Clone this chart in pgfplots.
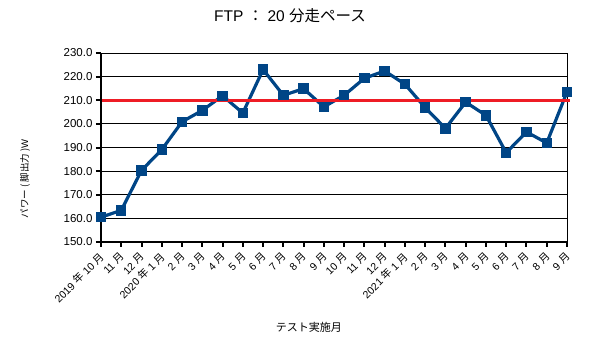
\documentclass[border=0pt]{standalone}
\usepackage{fontspec}
\setmainfont{Liberation Sans}
\newfontfamily\cjk{Noto Sans CJK JP}
\usepackage{pgfplots}
\pgfplotsset{compat=1.18}
\definecolor{lineblue}{HTML}{004586}
\definecolor{fred}{HTML}{EE1C25}
\newcommand\J[1]{{\cjk #1}}
\begin{document}
\begin{tikzpicture}
\useasboundingbox (-101pt,-114pt) rectangle (497pt,242pt);
\begin{axis}[
  at={(0,0)}, anchor=south west,
  scale only axis, width=466pt, height=189pt,
  xmin=0, xmax=23, ymin=150, ymax=230,
  ytick={150,160,...,230},
  xtick={0,...,23},
  xticklabels={2019 \J{年} 10 \J{月},11 \J{月},12 \J{月},2020 \J{年} 1 \J{月},2 \J{月},3 \J{月},4 \J{月},5 \J{月},6 \J{月},7 \J{月},8 \J{月},9 \J{月},10 \J{月},11 \J{月},12 \J{月},2021 \J{年} 1 \J{月},2 \J{月},3 \J{月},4 \J{月},5 \J{月},6 \J{月},7 \J{月},8 \J{月},9 \J{月}},
  x tick label style={xshift=2pt, yshift=-7pt, rotate=45, anchor=east, font=\fontsize{10.5}{12}\selectfont, inner sep=1pt},
  y tick label style={font=\fontsize{11.5}{13}\selectfont},
  yticklabel style={/pgf/number format/.cd, fixed, fixed zerofill, precision=1, assume math mode=true},
  xtick pos=bottom, ytick pos=left,
  tick align=outside, major tick length=5pt,
  tick style={black, line width=2pt},
  ymajorgrids, major grid style={black, line width=0.8pt},
  axis line style={black, line width=0.8pt},
  clip=false,
  title={FTP \J{：} 20 \J{分走ペース}},
  title style={font=\fontsize{15.5}{18}\selectfont, at={(axis description cs:0.4056,1.164)}, anchor=center},
  xlabel={\J{テスト実施月}},
  xlabel style={font=\fontsize{11}{13}\selectfont, at={(axis description cs:0.446,-0.45)}, anchor=center},
  ylabel={\J{パワー ( 脚出力 )}W},
  ylabel style={font=\fontsize{9.5}{11}\selectfont, at={(axis description cs:-0.1631,0.333)}, anchor=center},
]
\addplot[lineblue, line width=3.2pt, mark=square*, mark size=4.7pt, mark options={solid, line width=0pt}] coordinates {
(0,160.5) (1,163.4) (2,180.3) (3,189.1) (4,200.9) (5,205.7) (6,211.9) (7,204.6)
(8,223.0) (9,212.1) (10,214.9) (11,207.2) (12,212.1) (13,219.3) (14,222.4) (15,216.8)
(16,206.9) (17,198.1) (18,209.2) (19,203.6) (20,187.8) (21,196.6) (22,191.9) (23,213.5)
};
\addplot[fred, line width=3.5pt] coordinates {(-0.05,210) (23.15,210)};
\draw[black, line width=2.2pt] (rel axis cs:0,1) -- (rel axis cs:0,0) -- (rel axis cs:1,0);
\end{axis}
\end{tikzpicture}
\end{document}
